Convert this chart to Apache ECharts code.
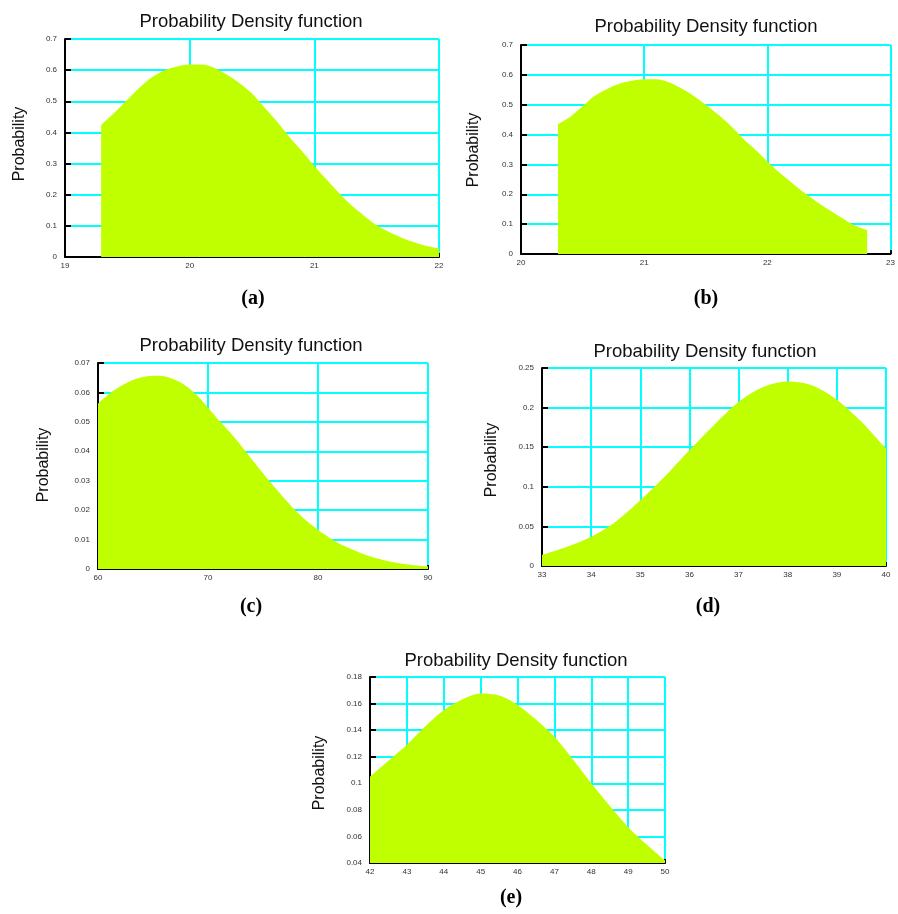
<!DOCTYPE html>
<html>
<head>
<meta charset="utf-8">
<script src="https://cdn.jsdelivr.net/npm/echarts@6/dist/echarts.min.js"></script>
<style>html,body{margin:0;padding:0;background:#fff}#c{width:898px;height:914px}</style>
</head>
<body>
<div id="c"></div>
<script>
// ---- data ----
const titleText = 'Probability Density function';
const yName = 'Probability';
const panelLabels = ['(a)', '(b)', '(c)', '(d)', '(e)'];

const aX = [19.29, 19.4, 19.5, 19.6, 19.7, 19.8, 19.9, 20.0, 20.1, 20.2, 20.3, 20.4, 20.5, 20.6, 20.7, 20.8, 20.9, 21.0, 21.1, 21.2, 21.3, 21.4, 21.5, 21.6, 21.7, 21.8, 21.9, 22.0];
const aY = [0.424, 0.465, 0.505, 0.545, 0.578, 0.600, 0.612, 0.618, 0.618, 0.607, 0.585, 0.558, 0.525, 0.480, 0.435, 0.385, 0.340, 0.292, 0.248, 0.205, 0.165, 0.132, 0.102, 0.080, 0.062, 0.047, 0.035, 0.027];

const bX = [20.3, 20.4, 20.5, 20.6, 20.7, 20.8, 20.9, 21.0, 21.1, 21.2, 21.3, 21.4, 21.5, 21.6, 21.7, 21.8, 21.9, 22.0, 22.1, 22.2, 22.3, 22.4, 22.5, 22.6, 22.7, 22.81];
const bY = [0.435, 0.460, 0.495, 0.530, 0.553, 0.570, 0.580, 0.585, 0.585, 0.575, 0.555, 0.530, 0.500, 0.467, 0.430, 0.388, 0.350, 0.310, 0.272, 0.238, 0.205, 0.175, 0.148, 0.122, 0.097, 0.080];

const cX = [60, 61, 62, 63, 64, 65, 66, 67, 68, 69, 70, 71, 72, 73, 74, 75, 76, 77, 78, 79, 80, 81, 82, 83, 84, 85, 86, 87, 88, 89, 90];
const cY = [0.0562, 0.0595, 0.0620, 0.0640, 0.0652, 0.0657, 0.0655, 0.0643, 0.0622, 0.0590, 0.0548, 0.0505, 0.0465, 0.0420, 0.0372, 0.0325, 0.0280, 0.0237, 0.0197, 0.0162, 0.0133, 0.0107, 0.0085, 0.0068, 0.0053, 0.0040, 0.0030, 0.0022, 0.0016, 0.0012, 0.0009];

const dX = [33, 33.5, 34, 34.5, 35, 35.5, 36, 36.5, 37, 37.5, 38, 38.5, 39, 39.5, 40];
const dY = [0.014, 0.024, 0.037, 0.056, 0.083, 0.113, 0.146, 0.178, 0.207, 0.226, 0.233, 0.228, 0.210, 0.182, 0.148];

const eX = [42, 42.5, 43, 43.5, 44, 44.5, 45, 45.5, 46, 46.5, 47, 47.5, 48, 48.5, 49, 49.5, 50];
const eY = [0.105, 0.117, 0.129, 0.143, 0.155, 0.163, 0.1675, 0.166, 0.159, 0.148, 0.135, 0.118, 0.100, 0.083, 0.067, 0.054, 0.042];

// axis ranges (min, max, interval)
const xRanges = [[19, 22, 1], [20, 23, 1], [60, 90, 10], [33, 40, 1], [42, 50, 1]];
const yRanges = [[0, 0.7, 0.1], [0, 0.7, 0.1], [0, 0.07, 0.01], [0, 0.25, 0.05], [0.04, 0.18, 0.02]];

// ---- layout ----
const grids = [
  {left: 65, top: 39, width: 374, height: 218},
  {left: 521, top: 45, width: 374, height: 209},
  {left: 98, top: 363, width: 330, height: 206},
  {left: 542, top: 368, width: 344, height: 198},
  {left: 370, top: 677, width: 295, height: 186}
];
const titlePos = [[246, 7], [701, 12], [246, 331], [700, 337], [511, 646]];
const yNamePos = [[20, 144], [474, 150], [44, 465], [492, 460], [320, 773]];
const labelPos = [[253, 299], [706, 299], [251, 607], [708, 607], [511, 898]];

const seriesX = [aX, bX, cX, dX, eX];
const seriesY = [aY, bY, cY, dY, eY];

const fill = '#bfff00';
const cyan = '#00ffff';

const xAxes = [], yAxes = [], series = [], titles = [], graphics = [];
for (let i = 0; i < 5; i++) {
  const [xmin, xmax, xint] = xRanges[i];
  const [ymin, ymax, yint] = yRanges[i];
  xAxes.push({
    type: 'value', gridIndex: i, min: xmin, max: xmax, interval: xint,
    axisLine: {show: true, onZero: false, lineStyle: {color: '#000', width: 2}},
    axisTick: {show: true, inside: true, length: 4, lineStyle: {color: '#000', width: 2}},
    axisLabel: {fontSize: 8, color: '#333', margin: 5, fontFamily: 'Liberation Sans'},
    splitLine: {show: true, lineStyle: {color: cyan, width: 2}}
  });
  yAxes.push({
    type: 'value', gridIndex: i, min: ymin, max: ymax, interval: yint,
    axisLine: {show: true, onZero: false, lineStyle: {color: '#000', width: 2}},
    axisTick: {show: true, inside: true, length: 6, lineStyle: {color: '#000', width: 2}},
    axisLabel: {fontSize: 8, color: '#333', margin: 8, fontFamily: 'Liberation Sans',
      formatter: v => String(+v.toFixed(4))},
    splitLine: {show: true, lineStyle: {color: cyan, width: 2}}
  });
  series.push({
    type: 'line', xAxisIndex: i, yAxisIndex: i,
    data: seriesX[i].map((x, k) => [x, seriesY[i][k]]),
    smooth: 0.3, showSymbol: false, silent: true,
    lineStyle: {width: 0, color: fill},
    areaStyle: {color: fill, opacity: 1, origin: 'start'},
    z: 3
  });
  titles.push({
    text: titleText, left: titlePos[i][0], top: titlePos[i][1], textAlign: 'center',
    textStyle: {fontSize: 18.5, fontWeight: 'normal', color: '#111', fontFamily: 'Liberation Sans'}
  });
  graphics.push({
    type: 'text', x: yNamePos[i][0], y: yNamePos[i][1], rotation: Math.PI / 2,
    style: {text: yName, fontSize: 16, fill: '#111', fontFamily: 'Liberation Sans', textAlign: 'center', textVerticalAlign: 'middle'}
  });
  graphics.push({
    type: 'text', x: labelPos[i][0], y: labelPos[i][1],
    style: {text: panelLabels[i], fontSize: 20, fontWeight: 'bold', fill: '#000', fontFamily: 'Liberation Serif', textAlign: 'center', textVerticalAlign: 'middle'}
  });
}

const chart = echarts.init(document.getElementById('c'), null, {renderer: 'canvas'});
chart.setOption({
  animation: false,
  backgroundColor: '#fff',
  title: titles,
  grid: grids,
  xAxis: xAxes,
  yAxis: yAxes,
  series: series,
  graphic: graphics
});
</script>
</body>
</html>
